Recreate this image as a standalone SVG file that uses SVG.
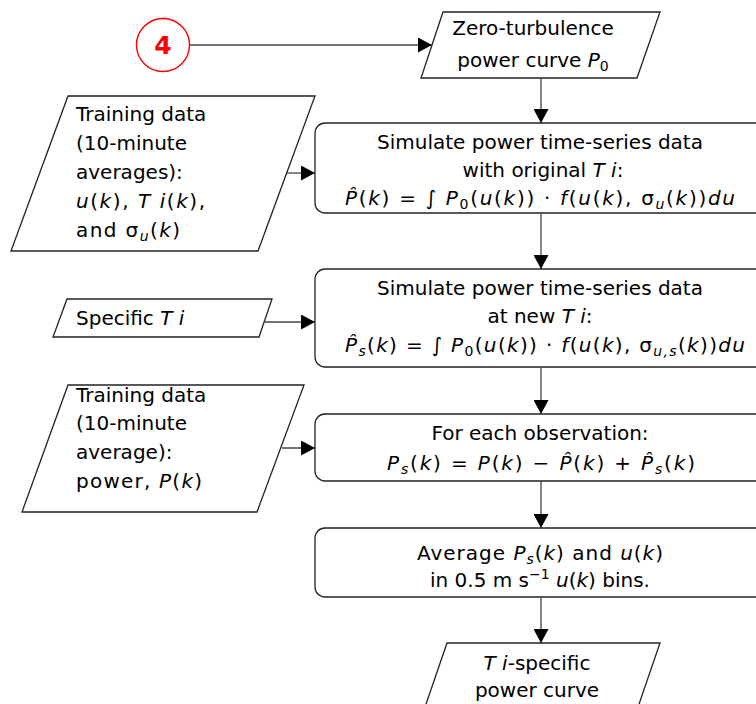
<svg xmlns="http://www.w3.org/2000/svg" width="756" height="704" viewBox="0 0 756 704">
<defs>
<marker id="ah" viewBox="0 0 14 15" refX="14" refY="7.5" markerWidth="14" markerHeight="15" markerUnits="userSpaceOnUse" orient="auto">
<path d="M0,0 L14,7.5 L0,15 Z" fill="#000"/>
</marker>
</defs>
<style>
text{font-family:"DejaVu Sans",sans-serif;font-size:20px;fill:#000}
.c{text-anchor:middle}
.i{font-style:italic}
.sub{font-size:14px}
.shape{fill:#fff;stroke:#222;stroke-width:1.3}
.conn line{stroke:#444;stroke-width:1.3;marker-end:url(#ah)}
</style>
<rect width="756" height="704" fill="#fff"/>

<g id="n4">
<circle cx="163" cy="45" r="26.5" fill="#fff" stroke="#ff0000" stroke-width="1.4"/>
<text x="163" y="54" class="c" style="font-weight:bold;font-size:25px;fill:#ff0000">4</text>
</g>

<g id="p0">
<polygon class="shape" points="443,12 660,12 637,78 421,78"/>
<text x="533" y="35" class="c">Zero-turbulence</text>
<text x="533" y="67" class="c">power curve <tspan class="i">P</tspan><tspan class="sub" dy="4">0</tspan></text>
</g>

<g id="train1">
<polygon class="shape" points="68,96 315,96 258,251 11,251"/>
<text x="76" y="121">Training data</text>
<text x="76" y="150">(10-minute</text>
<text x="76" y="179">averages):</text>
<text x="76" y="208" textLength="129" lengthAdjust="spacing"><tspan class="i">u</tspan>(<tspan class="i">k</tspan>), <tspan class="i">T i</tspan>(<tspan class="i">k</tspan>),</text>
<text x="76" y="237" textLength="104" lengthAdjust="spacing">and σ<tspan class="sub i" dy="4">u</tspan><tspan dy="-4">(</tspan><tspan class="i">k</tspan>)</text>
</g>

<g id="sim1">
<rect class="shape" x="315" y="123" width="500" height="90" rx="10"/>
<text x="540" y="149" class="c">Simulate power time-series data</text>
<text x="543" y="177" class="c">with original <tspan class="i">T i</tspan>:</text>
<text x="540" y="205" class="c" textLength="390" lengthAdjust="spacing"><tspan class="i">P̂</tspan>(<tspan class="i">k</tspan>) = ∫ <tspan class="i">P</tspan><tspan class="sub" dy="4">0</tspan><tspan dy="-4">(</tspan><tspan class="i">u</tspan>(<tspan class="i">k</tspan>)) · <tspan class="i">f</tspan>(<tspan class="i">u</tspan>(<tspan class="i">k</tspan>), σ<tspan class="sub i" dy="4">u</tspan><tspan dy="-4">(</tspan><tspan class="i">k</tspan>))<tspan class="i">du</tspan></text>
</g>

<g id="specTi">
<polygon class="shape" points="67,299 272,299 259,337 53,337"/>
<text x="76" y="325">Specific <tspan class="i">T i</tspan></text>
</g>

<g id="sim2">
<rect class="shape" x="315" y="269" width="500" height="98" rx="10"/>
<text x="540" y="295" class="c">Simulate power time-series data</text>
<text x="540" y="323" class="c">at new <tspan class="i">T i</tspan>:</text>
<text x="545" y="352" class="c" textLength="400" lengthAdjust="spacing"><tspan class="i">P̂</tspan><tspan class="sub i" dy="4">s</tspan><tspan dy="-4">(</tspan><tspan class="i">k</tspan>) = ∫ <tspan class="i">P</tspan><tspan class="sub" dy="4">0</tspan><tspan dy="-4">(</tspan><tspan class="i">u</tspan>(<tspan class="i">k</tspan>)) · <tspan class="i">f</tspan>(<tspan class="i">u</tspan>(<tspan class="i">k</tspan>), σ<tspan class="sub i" dy="4">u,s</tspan><tspan dy="-4">(</tspan><tspan class="i">k</tspan>))<tspan class="i">du</tspan></text>
</g>

<g id="train2">
<polygon class="shape" points="68,385 304,385 257,512 22,512"/>
<text x="76" y="402">Training data</text>
<text x="76" y="430">(10-minute</text>
<text x="76" y="459">average):</text>
<text x="76" y="488" textLength="126" lengthAdjust="spacing">power, <tspan class="i">P</tspan>(<tspan class="i">k</tspan>)</text>
</g>

<g id="obs">
<rect class="shape" x="315" y="414" width="500" height="67" rx="10"/>
<text x="540" y="440" class="c">For each observation:</text>
<text x="541" y="470" class="c" textLength="308" lengthAdjust="spacing"><tspan class="i">P</tspan><tspan class="sub i" dy="4">s</tspan><tspan dy="-4">(</tspan><tspan class="i">k</tspan>) = <tspan class="i">P</tspan>(<tspan class="i">k</tspan>) − <tspan class="i">P̂</tspan>(<tspan class="i">k</tspan>) + <tspan class="i">P̂</tspan><tspan class="sub i" dy="4">s</tspan><tspan dy="-4">(</tspan><tspan class="i">k</tspan>)</text>
</g>

<g id="avg">
<rect class="shape" x="315" y="528" width="500" height="69" rx="10"/>
<text x="540" y="560" class="c" textLength="246" lengthAdjust="spacing">Average <tspan class="i">P</tspan><tspan class="sub i" dy="4">s</tspan><tspan dy="-4">(</tspan><tspan class="i">k</tspan>) and <tspan class="i">u</tspan>(<tspan class="i">k</tspan>)</text>
<text x="540" y="587" class="c">in 0.5 m s<tspan class="sub" dy="-8">−1</tspan><tspan dy="8"> </tspan><tspan class="i">u</tspan>(<tspan class="i">k</tspan>) bins.</text>
</g>

<g id="out">
<polygon class="shape" points="447,643 660,643 637,710 424,710"/>
<text x="537" y="670" class="c"><tspan class="i">T i</tspan>-specific</text>
<text x="537" y="697" class="c">power curve</text>
</g>

<g id="connectors" class="conn">
<line x1="190" y1="45" x2="432" y2="45"/>
<line x1="541" y1="78" x2="541" y2="123"/>
<line x1="287" y1="173" x2="315" y2="173"/>
<line x1="541" y1="213" x2="541" y2="269"/>
<line x1="265" y1="322" x2="315" y2="322"/>
<line x1="541" y1="367" x2="541" y2="414"/>
<line x1="282" y1="448" x2="315" y2="448"/>
<line x1="541" y1="481" x2="541" y2="528"/>
<line x1="541" y1="597" x2="541" y2="643"/>
</g>
</svg>
